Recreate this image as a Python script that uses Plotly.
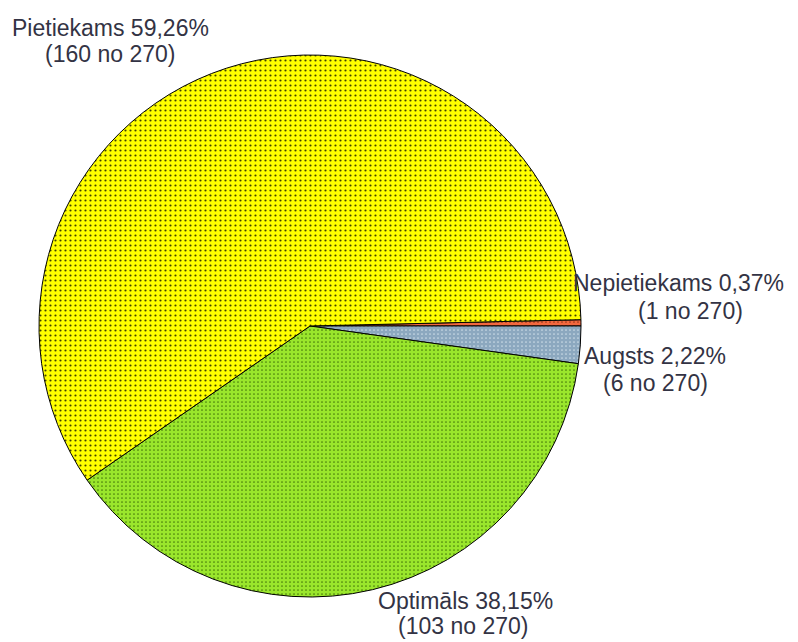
import plotly.graph_objects as go

labels = ["Nepietiekams", "Augsts", "Optimāls", "Pietiekams"]
counts = [1, 6, 103, 160]
total = 270
colors = ["#f2683f", "#8ca8bf", "#9ae62c", "#ffff00"]

pcts = [f"{c / total * 100:.2f}".replace(".", ",") for c in counts]
line1 = [f"{l} {p}%" for l, p in zip(labels, pcts)]
line2 = [f"({c} no {total})" for c in counts]

W, H = 790, 634   # page has an 8px body margin
OFF = 8

def px(x):
    return (x - OFF) / W

def py(y):
    return 1 - (y - OFF) / H

fig = go.Figure(go.Pie(
    labels=labels,
    values=counts,
    sort=False,
    direction="clockwise",
    rotation=90 - 360 * counts[0] / total,
    textinfo="none",
    hoverinfo="label+value+percent",
    marker=dict(
        colors=colors,
        line=dict(color="#000000", width=1),
        pattern=dict(shape=".", fillmode="overlay",
                     fgcolor=["#7a2a10", "#dfeaf2", "#2e5a00", "#000000"],
                     fgopacity=0.75, size=[4, 4, 4, 5], solidity=0.15),
    ),
    domain=dict(x=[px(39), px(581)], y=[py(597), py(55)]),
    showlegend=False,
))

# label line positions (page pixels, centre of each line)
pos1 = [(678, 283), (655, 356), (465, 601), (110, 28)]
pos2 = [(690, 311), (655, 383), (463, 626), (110, 54)]
font = dict(family="Liberation Sans, Arial, sans-serif", size=23, color="#333344")
for t1, t2, (x1, y1), (x2, y2) in zip(line1, line2, pos1, pos2):
    fig.add_annotation(x=px(x1), y=py(y1), xref="paper", yref="paper", text=t1,
                       showarrow=False, xanchor="center", yanchor="middle", font=font)
    fig.add_annotation(x=px(x2), y=py(y2), xref="paper", yref="paper", text=t2,
                       showarrow=False, xanchor="center", yanchor="middle", font=font)

fig.update_layout(
    width=W, height=H,
    margin=dict(l=0, r=0, t=0, b=0),
    paper_bgcolor="white", plot_bgcolor="white",
)
fig.write_html("out.html")
